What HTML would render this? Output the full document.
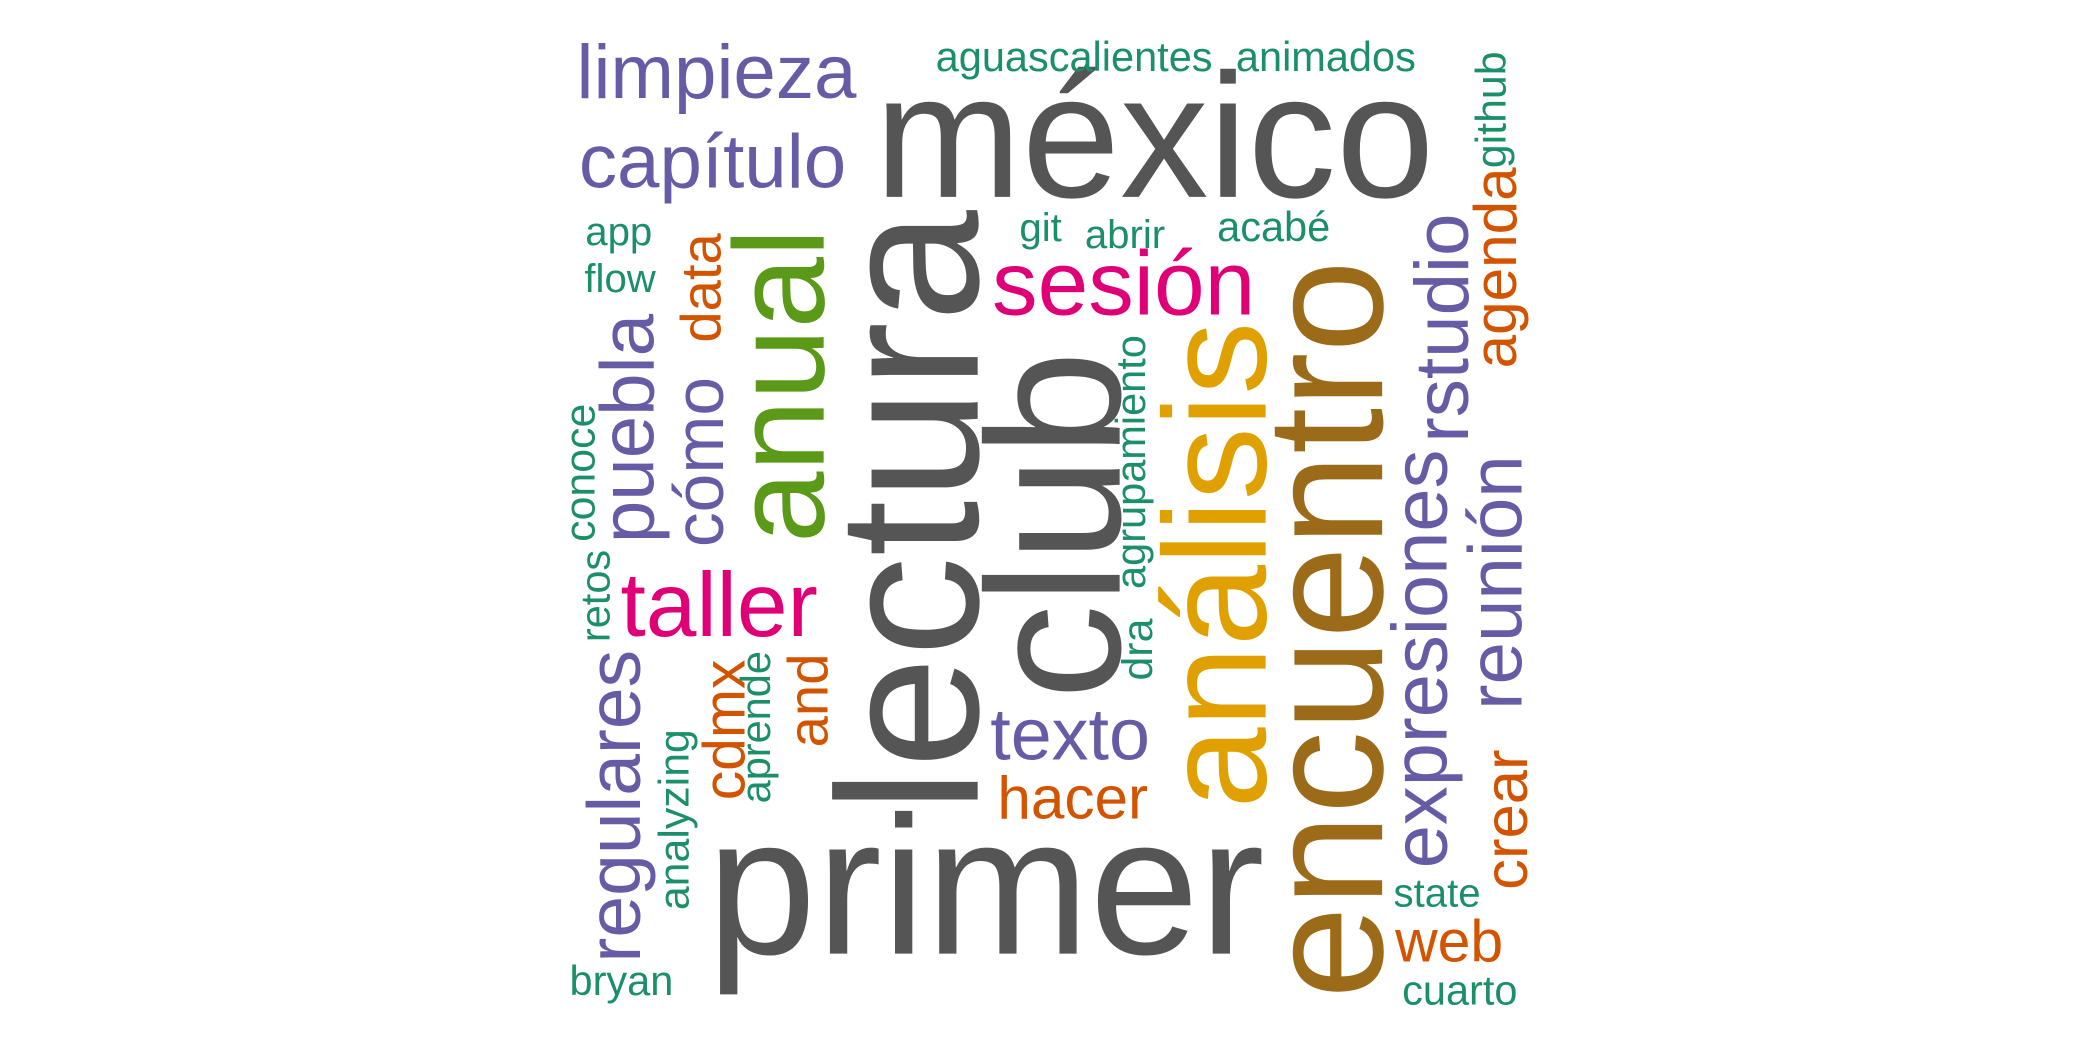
<!DOCTYPE html>
<html><head><meta charset="utf-8"><style>
html,body{margin:0;padding:0;background:#fff;}
svg{display:block;}
text{font-family:"Liberation Sans",Arial,sans-serif;}
</style></head><body>
<svg id="cloud" width="2100" height="1050" viewBox="0 0 1568 784" xmlns="http://www.w3.org/2000/svg">
<rect width="1568" height="784" fill="#fff"/>
</svg>
<script>
const GRAY="#555555",PUR="#665ca6",GRN="#1b8f6a",PINK="#df0077",ORG="#d35400",YEL="#e0a000",BRN="#9c6b1a",LGR="#5a9a18";
const words=["méxico","primer","limpieza","capítulo","aguascalientes","animados","app","flow","git","abrir","acabé","sesión","taller","texto","hacer","web","state","cuarto","bryan",
"lectura","club","análisis","encuentro","anual","puebla","cómo","data","regulares","analyzing","cdmx","aprende","and","retos","conoce","agrupamiento","dra","expresiones","rstudio","reunión","crear","agenda","github"];
const sizes=[132,147,57,57,31,31,30,30,30,30,31,68,68,55,45,44,30,31,31,
150,142,109,124,96,57,52,42,56,32,44,31,42,31,32,31,32,58,57,57,46,45,32];
const colors=[GRAY,GRAY,PUR,PUR,GRN,GRN,GRN,GRN,GRN,GRN,GRN,PINK,PINK,PUR,ORG,ORG,GRN,GRN,GRN,
GRAY,GRAY,YEL,BRN,LGR,PUR,PUR,ORG,PUR,GRN,ORG,GRN,ORG,GRN,GRN,GRN,GRN,PUR,PUR,PUR,ORG,ORG,GRN];
const vertical=[0,0,0,0,0,0,0,0,0,0,0,0,0,0,0,0,0,0,0,
1,1,1,1,1,1,1,1,1,1,1,1,1,1,1,1,1,1,1,1,1,1,1];
const px=[862,736,535,532,802,990,462,463,777,840,951,839,537,799,801,1082,1073,1090,464,
730,836,945,1032,615,488,540,538,478,514,556,575,618,455,444,855,860,1080,1096,1136,1140,1132,1124];
const py=[147,712,73,140,53,53,183,218,180,185,180,235,475,567,611,718,677,750,743,
382,392,422,470,288,320,345,215,602,612,545,543,523,445,353,345,485,492,245,435,612,200,82];
const svg=document.getElementById('cloud');
const NS="http://www.w3.org/2000/svg";
for(let i=0;i<words.length;i++){
  const t=document.createElementNS(NS,'text');
  t.textContent=words[i];
  t.setAttribute('text-anchor','middle');
  t.setAttribute('font-size',sizes[i]);
  t.setAttribute('fill',colors[i]);
  if(vertical[i]){
    t.setAttribute('transform','translate('+px[i]+','+py[i]+') rotate(-90)');
  }else{
    t.setAttribute('x',px[i]);t.setAttribute('y',py[i]);
  }
  
  
  svg.appendChild(t);
}
</script>
</body></html>
